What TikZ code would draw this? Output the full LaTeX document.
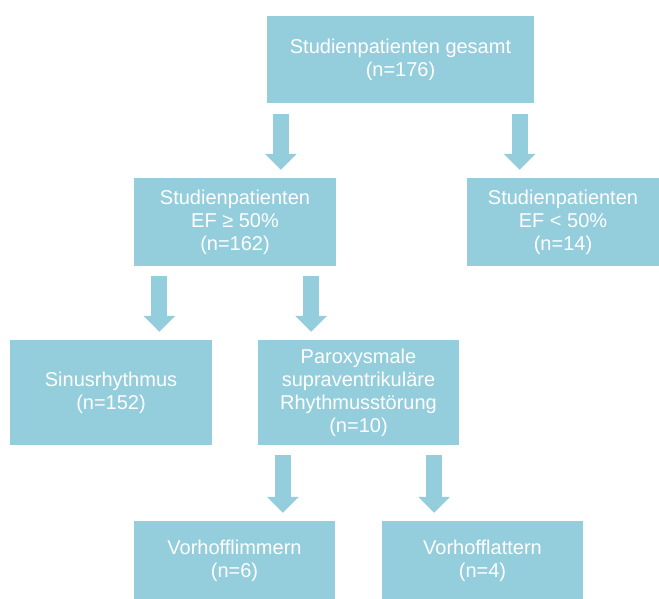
\documentclass[tikz,border=0pt]{standalone}
\usepackage{fontspec}
\setmainfont{Liberation Sans}
\usepackage{tikz}
\usetikzlibrary{arrows.meta,positioning,calc}
\definecolor{boxblue}{RGB}{148,205,219}
\tikzset{
  box/.style={fill=boxblue, text=white, align=center, inner sep=0pt,
    font=\fontsize{20}{23}\selectfont},
  blockarrow/.style={-{Triangle[width=31pt,length=16pt]}, line width=16pt,
    draw=boxblue, shorten <=10pt, shorten >=8pt},
}

\begin{document}
\begin{tikzpicture}[x=1pt, y=-1pt]
  \useasboundingbox (0,0) rectangle (659,599);

  % top level
  \node[box, minimum width=267pt, minimum height=87pt] (total) at (400.5,60)
    {Studienpatienten gesamt\\(n=176)};

  % ejection fraction
  \node[box, minimum width=202pt, minimum height=88pt] (efhi) at (235,222)
    {Studienpatienten\\EF ≥ 50\%\\(n=162)};
  \node[box, minimum width=192pt, minimum height=88pt] (eflo) at (563,222)
    {Studienpatienten\\EF < 50\%\\(n=14)};

  \draw[blockarrow] ([xshift=14]total.south west) -- ([xshift=14]total.south west |- efhi.north);
  \draw[blockarrow] ([xshift=-14.5]total.south east) -- ([xshift=-14.5]total.south east |- eflo.north);

  % rhythm
  \node[box, minimum width=202pt, minimum height=105pt] (sinus) at (111,392.5)
    {Sinusrhythmus\\(n=152)};
  \node[box, minimum width=201pt, minimum height=105pt] (parox) at (358.5,392.5)
    {Paroxysmale\\supraventrikuläre\\Rhythmusstörung\\(n=10)};

  \draw[blockarrow] ([xshift=25.5]efhi.south west) -- ([xshift=25.5]efhi.south west |- sinus.north);
  \draw[blockarrow] ([xshift=-25]efhi.south east) -- ([xshift=-25]efhi.south east |- parox.north);

  % atrial
  \node[box, minimum width=201pt, minimum height=80pt] (flimm) at (234.5,561)
    {Vorhofflimmern\\(n=6)};
  \node[box, minimum width=201pt, minimum height=80pt] (flatt) at (482.5,561)
    {Vorhofflattern\\(n=4)};

  \draw[blockarrow] ([xshift=25]parox.south west) -- ([xshift=25]parox.south west |- flimm.north);
  \draw[blockarrow] ([xshift=-25]parox.south east) -- ([xshift=-25]parox.south east |- flatt.north);
\end{tikzpicture}
\end{document}
